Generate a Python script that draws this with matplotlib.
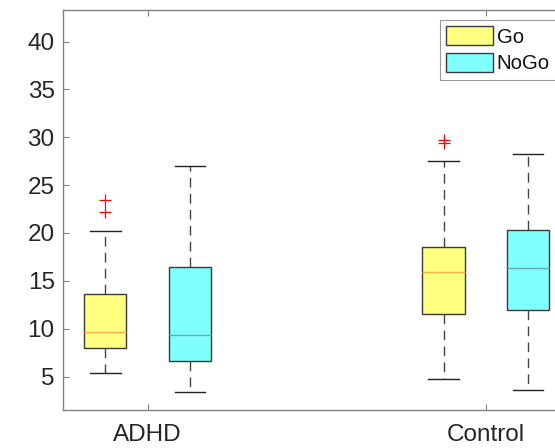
import matplotlib
matplotlib.use("Agg")
import matplotlib.pyplot as plt
from matplotlib.patches import Patch

groups = ["ADHD", "Control"]
conditions = ["Go", "NoGo"]
# per box: whislo, q1, med, q3, whishi, fliers
adhd_go = [5.36, 7.97, 9.70, 13.6, 20.22, [22.2, 23.43]]
adhd_nogo = [3.37, 6.67, 9.33, 16.43, 27.0, []]
ctrl_go = [4.76, 11.52, 15.87, 18.55, 27.5, [29.45, 29.73]]
ctrl_nogo = [3.61, 11.97, 16.33, 20.26, 28.27, []]
yticks = [5, 10, 15, 20, 25, 30, 35, 40]

plt.rcParams['font.family'] = ['Liberation Sans', 'DejaVu Sans']

fig = plt.figure(figsize=(5.55, 4.48), dpi=100)
W, H = 555, 448
left, right, top, bottom = 63, 570.5, 10, 410
ax = fig.add_axes([left / W, (H - bottom) / H, (right - left) / W, (bottom - top) / H])

series = [(adhd_go, 0), (adhd_nogo, 1), (ctrl_go, 0), (ctrl_nogo, 1)]
positions = [0.875, 1.125, 1.875, 2.125]
fills = ["#FFFF80", "#80FFFF"]
meds = ["#FFB347", "#5FAFAF"]

for (vals, c), pos in zip(series, positions):
    st = dict(whislo=vals[0], q1=vals[1], med=vals[2], q3=vals[3], whishi=vals[4], fliers=vals[5])
    ax.bxp([st], positions=[pos], widths=0.125, patch_artist=True, showfliers=True,
           boxprops=dict(facecolor=fills[c], edgecolor="#3a3a3a", linewidth=1.0),
           medianprops=dict(color=meds[c], linewidth=1.0),
           whiskerprops=dict(color="#444444", linestyle=(0, (7, 4.5)), linewidth=1.0),
           capprops=dict(color="#222222", linewidth=1.0),
           flierprops=dict(marker="+", markeredgecolor="red", markersize=8, markeredgewidth=0.9, linestyle="none"),
           capwidths=0.09)

ax.set_xlim(0.75, 2.25)
ax.set_ylim(1.5, 43.3)
ax.set_xticks([1, 2])
ax.set_xticklabels(groups)
ax.set_yticks(yticks)
ax.tick_params(axis="both", direction="in", length=4, width=0.8, colors="#808080",
               labelcolor="#262626", labelsize=17.5, top=True, right=True)
ax.tick_params(axis="y", pad=6)
ax.tick_params(axis="x", pad=10)
for s in ax.spines.values():
    s.set_color("#808080")
    s.set_linewidth(1.0)

handles = [Patch(facecolor=fills[i], edgecolor="#3a3a3a", label=conditions[i]) for i in range(2)]
leg = ax.legend(handles=handles, loc="upper left",
                bbox_to_anchor=((440 - left) / (right - left), (bottom - 20) / (bottom - top)),
                fontsize=14.7, frameon=True, fancybox=False, edgecolor="#808080",
                handlelength=2.3, handleheight=1.08, handletextpad=0.18, borderpad=0.3,
                labelspacing=0.3, borderaxespad=0)
leg.get_frame().set_linewidth(0.8)
for t in leg.get_texts():
    t.set_color("#111111")

fig.savefig("out.png", dpi=100)
